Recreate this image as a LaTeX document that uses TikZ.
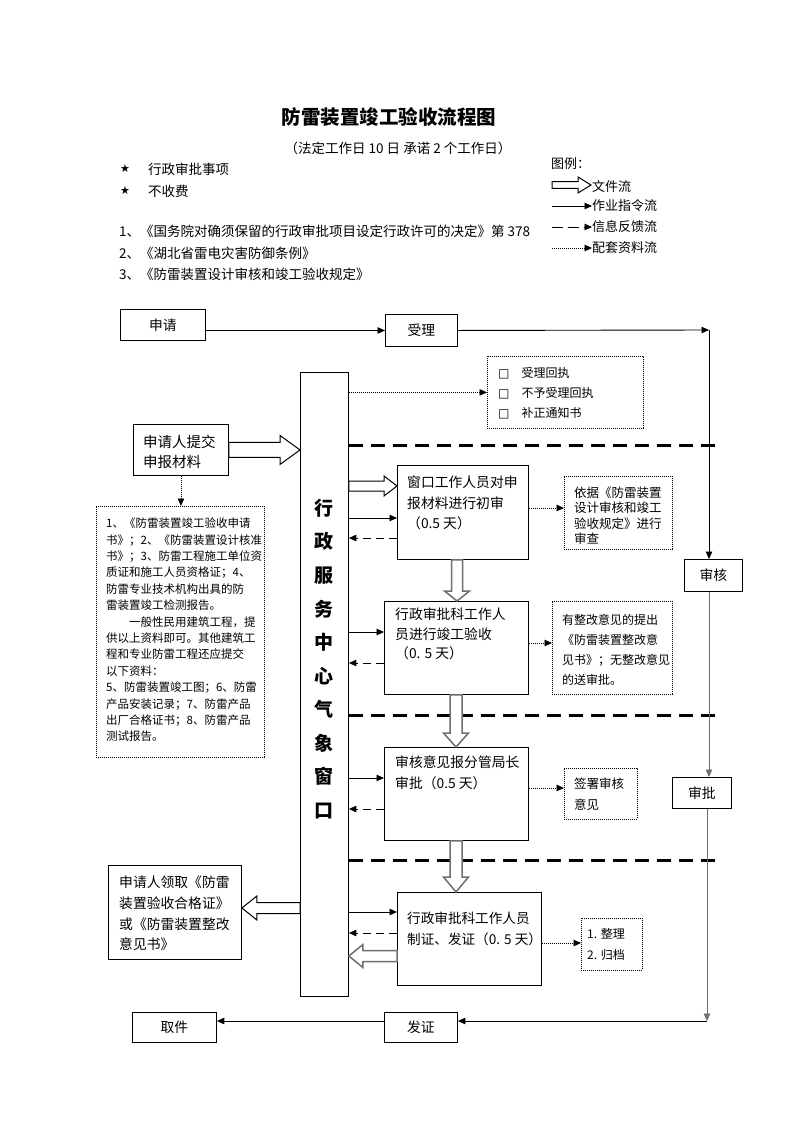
\documentclass[tikz,border=0pt]{standalone}
\usepackage{fontspec}
\setmainfont{Noto Sans CJK SC}
\newfontfamily\sym{DejaVu Sans}
\usetikzlibrary{arrows.meta,calc}
\definecolor{fg}{RGB}{110,110,110}
\newcommand\fsz[2]{\fontsize{#1bp}{#2bp}\selectfont}
\newcommand\fatarrow[6][]{%
  \path ($(#3)!#6!(#2)$) coordinate (fh);
  \draw[fat,#1] ($(#2)!#4!90:(#3)$) -- ($(fh)!#4!90:(#3)$) -- ($(fh)!#5!90:(#3)$) -- (#3)
     -- ($(fh)!#5!-90:(#3)$) -- ($(fh)!#4!-90:(#3)$) -- ($(#2)!#4!-90:(#3)$) -- cycle;}
\begin{document}
\begin{tikzpicture}[x=1bp,y=-1bp,
  box/.style={draw, line width=0.9bp, inner sep=0pt, anchor=north west, font=\fsz{13.8}{16}},
  dbox/.style={draw, line width=0.8bp, dash pattern=on 1bp off 1bp, inner sep=0pt, anchor=north west},
  txt/.style={inner sep=0pt, anchor=north west, align=left},
  lbl/.style={inner sep=0pt, anchor=west},
  flow/.style={line width=0.9bp, -{Triangle[length=7.5bp,width=6.5bp]}},
  fb/.style={flow, dash pattern=on 8bp off 5bp},
  doc/.style={flow, dash pattern=on 1bp off 1bp},
  fat/.style={draw=black, fill=white, line width=1bp, line join=miter},
  fatg/.style={draw=fg, line width=1.5bp},
  sep/.style={line width=3bp, dash pattern=on 14bp off 8bp},
  ]
\path[fill=white, use as bounding box] (0,0) rectangle (793,1122);

% header
\node[font=\bfseries\fsz{19.5}{24}] (title) at (389,117) {防雷装置竣工验收流程图};
\node[font=\fsz{13.5}{16}] (subt) at (398,148) {（法定工作日 10 日 承诺 2 个工作日）};
\node[font=\sym\fsz{11}{13}] (st1) at (125,169) {★};
\node[lbl, font=\fsz{13.5}{16}] (st1t) at (148,169) {行政审批事项};
\node[font=\sym\fsz{11}{13}] (st2) at (125,191) {★};
\node[lbl, font=\fsz{13.5}{16}] (st2t) at (148,191) {不收费};
\node[lbl, font=\fsz{13.5}{16}] (r1) at (119,231) {1、《国务院对确须保留的行政审批项目设定行政许可的决定》第 378};
\node[lbl, font=\fsz{13.5}{16}] (r2) at (119,253) {2、《湖北省雷电灾害防御条例》};
\node[lbl, font=\fsz{13.5}{16}] (r3) at (119,274) {3、《防雷装置设计审核和竣工验收规定》};

% legend
\node[lbl, font=\fsz{13}{16}] (lg) at (551,164) {图例：};
\coordinate (lg1a) at (552,185); \coordinate (lg1b) at (591,185);
\fatarrow{lg1a}{lg1b}{3.3bp}{8bp}{13bp}
\node[lbl, font=\fsz{13}{16}] (lg1t) at (592,187) {文件流};
\coordinate (lg2a) at (552,206); \coordinate (lg2b) at (592,206);
\draw[flow] (lg2a) -- (lg2b);
\node[lbl, font=\fsz{13}{16}] (lg2t) at (592,206) {作业指令流};
\coordinate (lg3a) at (552,227); \coordinate (lg3b) at (592,227);
\draw[flow, dash pattern=on 11bp off 5bp] (lg3a) -- (lg3b);
\node[lbl, font=\fsz{13}{16}] (lg3t) at (592,227) {信息反馈流};
\coordinate (lg4a) at (552,248); \coordinate (lg4b) at (592,248);
\draw[doc] (lg4a) -- (lg4b);
\node[lbl, font=\fsz{13}{16}] (lg4t) at (592,248) {配套资料流};

% boxes
\node[box, minimum width=85bp, minimum height=31bp] (sq) at (120,309) {申请};
\node[box, minimum width=72bp, minimum height=32bp] (sl) at (385,314) {受理};
\node[box, minimum width=58bp, minimum height=32bp] (sh) at (684,559) {审核};
\node[box, minimum width=59bp, minimum height=31bp] (sp) at (672,777) {审批};
\node[box, minimum width=73bp, minimum height=30bp] (fz) at (384,1012) {发证};
\node[box, minimum width=84bp, minimum height=30bp] (qj) at (132,1012) {取件};
\node[box, minimum width=48bp, minimum height=624bp] (col) at (300,372) {};
\node[inner sep=0pt, align=center, font=\bfseries\fsz{19}{33.55}] (colt) at (324,659)
  {行\\政\\服\\务\\中\\心\\气\\象\\窗\\口};

\node[dbox, minimum width=156bp, minimum height=72bp] (tb) at (487,356) {};
\node[txt, font=\fsz{12}{20}] (tbt) at (498,367)
  {{\sym □}\hspace{12bp}受理回执\\{\sym □}\hspace{12bp}不予受理回执\\{\sym □}\hspace{12bp}补正通知书};

\node[box, minimum width=95bp, minimum height=51bp] (sub) at (133,424) {};
\node[txt, font=\fsz{14.5}{20}] (subtx) at (143,434.5) {申请人提交\\申报材料};

\node[dbox, minimum width=168bp, minimum height=251bp] (ldb) at (96,506) {};
\node[txt, font=\fsz{11.5}{16.4}] (ldbt) at (106,517.7)
  {1、《防雷装置竣工验收申请\\
   书》；2、《防雷装置设计核准\\
   书》；3、防雷工程施工单位资\\
   质证和施工人员资格证；4、\\
   防雷专业技术机构出具的防\\
   雷装置竣工检测报告。\\
   \hspace*{23bp}一般性民用建筑工程，提\\
   供以上资料即可。其他建筑工\\
   程和专业防雷工程还应提交\\
   以下资料：\\
   5、防雷装置竣工图；6、防雷\\
   产品安装记录；7、防雷产品\\
   出厂合格证书；8、防雷产品\\
   测试报告。};

\node[box, minimum width=131bp, minimum height=94bp] (ck) at (397,465) {};
\node[txt, font=\fsz{13.8}{20.5}] (ckt) at (407,475.8) {窗口工作人员对申\\报材料进行初审\\（0.5 天）};
\node[dbox, minimum width=108bp, minimum height=73bp] (db1) at (564,476) {};
\node[txt, font=\fsz{12.5}{15.5}] (db1t) at (574,486.4) {依据《防雷装置\\设计审核和竣工\\验收规定》进行\\审查};

\node[box, minimum width=144bp, minimum height=93bp] (yz) at (384,601) {};
\node[txt, font=\fsz{13.8}{19.5}] (yzt) at (395,607.8) {行政审批科工作人\\员进行竣工验收\\（0. 5 天）};
\node[dbox, minimum width=120bp, minimum height=93bp] (db2) at (552,601) {};
\node[txt, font=\fsz{12}{20}] (db2t) at (562,614.6) {有整改意见的提出\\《防雷装置整改意\\见书》；无整改意见\\的送审批。};

\node[box, minimum width=144bp, minimum height=93bp] (sh2) at (384,747) {};
\node[txt, font=\fsz{13.8}{21}] (sh2t) at (395,755.8) {审核意见报分管局长\\审批（0.5 天）};
\node[dbox, minimum width=73bp, minimum height=51bp] (db3) at (564,768) {};
\node[txt, font=\fsz{12.5}{21}] (db3t) at (574,777.4) {签署审核\\意见};

\node[box, minimum width=144bp, minimum height=93bp] (zz) at (397,892) {};
\node[txt, font=\fsz{13.6}{21}] (zzt) at (407,911.9) {行政审批科工作人员\\制证、发证（0. 5 天）};
\node[dbox, minimum width=61bp, minimum height=52bp] (db4) at (581,918) {};
\node[txt, font=\fsz{12}{21}] (db4t) at (587,928.6) {1. 整理\\2. 归档};

\node[box, minimum width=133bp, minimum height=94bp] (lq) at (108,865) {};
\node[txt, font=\fsz{13.8}{20.7}] (lqt) at (119,875.8) {申请人领取《防雷\\装置验收合格证》\\或《防雷装置整改\\意见书》};

% separators
\draw[sep] (col.east |- 0,445) -- (717,445);
\draw[sep] (col.east |- 0,715) -- (717,715);
\draw[sep] (col.east |- 0,860) -- (717,860);

% top flow
\draw[flow] (sq.east |- sl.west) -- (sl.west);
\coordinate (tr) at (709,330);
\draw[flow] (sl.east) -- (tr);
\draw[flow] (tr) -- (tr |- sh.north);
\draw[flow, draw=fg] (sh.south -| tr) -- (sp.north -| tr);
\coordinate (br) at (707,1021);
\draw[flow, draw=fg] (sp.south -| br) -- (br);
\draw[flow] (br) -- (fz.east |- br);
\draw[flow] (fz.west |- br) -- (qj.east |- br);

% column links
\draw[doc] (col.east |- tb.west) -- (tb.west);
\coordinate (a1) at (sub.east); \coordinate (b1) at (col.west |- sub.east);
\fatarrow{a1}{b1}{7.5bp}{14.5bp}{20bp}
\draw[doc] (sub.south) -- (sub.south |- ldb.north);

\coordinate (a2) at (col.east |- 0,486); \coordinate (b2) at (ck.west |- 0,486);
\fatarrow{a2}{b2}{5bp}{10bp}{13bp}
\draw[flow] (col.east |- 0,518) -- (ck.west |- 0,518);
\draw[fb] (ck.west |- 0,538) -- (col.east |- 0,538);
\draw[doc] (ck.east |- 0,508) -- (db1.west |- 0,508);

\coordinate (a3) at (ck.south -| 457,0); \coordinate (b3) at (yz.north -| 457,0);
\fatarrow[fatg]{a3}{b3}{5.5bp}{12.5bp}{10bp}

\draw[flow] (col.east |- 0,632) -- (yz.west |- 0,632);
\draw[fb] (yz.west |- 0,663) -- (col.east |- 0,663);
\draw[doc] (yz.east |- 0,643) -- (db2.west |- 0,643);

\coordinate (a4) at (yz.south -| 456,0); \coordinate (b4) at (sh2.north -| 456,0);
\fatarrow[fatg]{a4}{b4}{6bp}{12.5bp}{14bp}

\draw[flow] (col.east |- 0,778) -- (sh2.west |- 0,778);
\draw[fb] (sh2.west |- 0,809) -- (col.east |- 0,809);
\draw[doc] (sh2.east |- 0,788) -- (db3.west |- 0,788);

\coordinate (a5) at (sh2.south -| 456,0); \coordinate (b5) at (zz.north -| 456,0);
\fatarrow[fatg]{a5}{b5}{6bp}{12.5bp}{15bp}

\draw[flow] (col.east |- 0,912) -- (zz.west |- 0,912);
\draw[fb] (zz.west |- 0,933) -- (col.east |- 0,933);
\coordinate (a6) at (zz.west |- 0,956); \coordinate (b6) at (col.east |- 0,956);
\fatarrow[fatg]{a6}{b6}{5.5bp}{11.5bp}{14bp}
\draw[doc] (zz.east |- 0,943) -- (db4.west |- 0,943);

\coordinate (a7) at (col.west |- 0,908); \coordinate (b7) at (lq.east |- 0,908);
\fatarrow{a7}{b7}{5.5bp}{12bp}{15bp}
\end{tikzpicture}
\end{document}
